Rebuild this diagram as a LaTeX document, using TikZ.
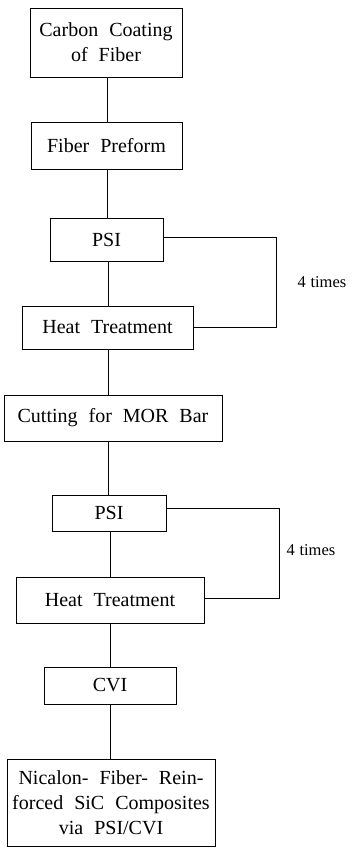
\documentclass[tikz,border=0pt]{standalone}
\usepackage{fontspec}
\setmainfont[WordSpace=2.2]{Liberation Serif}
\newfontfamily\lblfont[WordSpace=1.1]{Liberation Serif}
\begin{document}
\begin{tikzpicture}[x=1pt,y=-1pt,
  stepbox/.style={draw, line width=0.9pt, inner sep=0pt, align=center,
    font=\fontsize{20}{25}\selectfont},
  conn/.style={line width=0.7pt},
  lbl/.style={inner sep=0pt, font=\lblfont\fontsize{16.5}{20}\selectfont}]
\useasboundingbox (0,0) rectangle (357,848);
\node[stepbox, minimum width=152, minimum height=69] (b1) at (106,42.5) {Carbon Coating\\of Fiber};
\node[stepbox, minimum width=151, minimum height=47] (b2) at (106.5,145.5) {Fiber Preform};
\node[stepbox, minimum width=113, minimum height=43] (p1) at (106.5,239.5) {PSI};
\node[stepbox, minimum width=171, minimum height=43] (h1) at (107.5,327.5) {Heat Treatment};
\node[stepbox, minimum width=218, minimum height=46] (cut) at (113,418) {Cutting for MOR Bar};
\node[stepbox, minimum width=114, minimum height=36] (p2) at (109,513) {PSI};
\node[stepbox, minimum width=188, minimum height=46] (h2) at (110,600) {Heat Treatment};
\node[stepbox, minimum width=132, minimum height=37] (cvi) at (110,685.5) {CVI};
\node[stepbox, minimum width=208, minimum height=87] (fin) at (111,802.5) {Nicalon- Fiber- Rein-\\forced SiC Composites\\via PSI/CVI};
\coordinate (x1) at (107,0);
\coordinate (x2) at (108,0);
\coordinate (x3) at (110,0);
\draw[conn] (b1.south -| x1) -- (b2.north -| x1);
\draw[conn] (b2.south -| x1) -- (p1.north -| x1);
\draw[conn] (p1.south -| x2) -- (h1.north -| x2);
\draw[conn] (h1.south -| x2) -- (cut.north -| x2);
\draw[conn] (cut.south -| x2) -- (p2.north -| x2);
\draw[conn] (p2.south -| x3) -- (h2.north -| x3);
\draw[conn] (h2.south -| x3) -- (cvi.north -| x3);
\draw[conn] (cvi.south -| x3) -- (fin.north -| x3);
\coordinate (l1a) at (276,237);
\coordinate (l1b) at (276,327);
\draw[conn] (p1.east |- l1a) -- (l1a) -- (l1b) -- (h1.east |- l1b);
\coordinate (l2a) at (279,508);
\coordinate (l2b) at (279,598);
\draw[conn] (p2.east |- l2a) -- (l2a) -- (l2b) -- (h2.east |- l2b);
\node[lbl] (t1) at (322,282) {4 times};
\node[lbl] (t2) at (311,550) {4 times};
\end{tikzpicture}
\end{document}
